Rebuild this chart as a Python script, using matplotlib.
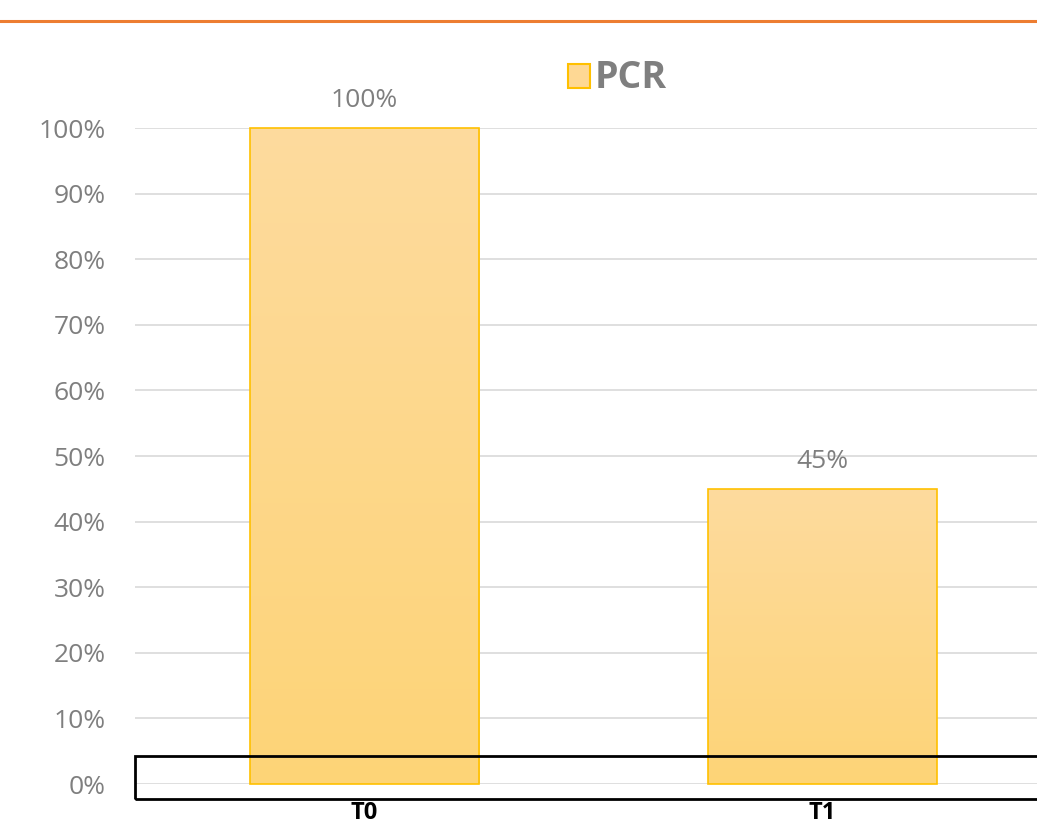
import numpy as np
import matplotlib.pyplot as plt
from matplotlib.patches import Rectangle
from matplotlib.colors import LinearSegmentedColormap

categories = ['T0', 'T1']
pcr_values = [1.00, 0.45]
value_labels = ['100%', '45%']
y_ticks = [0, 0.1, 0.2, 0.3, 0.4, 0.5, 0.6, 0.7, 0.8, 0.9, 1.0]
y_tick_labels = ['0%', '10%', '20%', '30%', '40%', '50%', '60%', '70%', '80%', '90%', '100%']

plt.rcParams['font.family'] = ['Open Sans', 'DejaVu Sans']

W, H = 1037, 826
fig = plt.figure(figsize=(W / 100, H / 100), dpi=100)
ax = fig.add_axes([135 / W, 42 / H, (1051 - 135) / W, (784 - 128) / H])

x = np.arange(len(categories))
bars = ax.bar(x, pcr_values, width=0.5, color='#fdd686', edgecolor='#ffc000',
              linewidth=1.2, zorder=3, clip_on=False)

# soft vertical gradient inside each bar
grad = np.linspace(0, 1, 256).reshape(-1, 1)
cmap = LinearSegmentedColormap.from_list('g', ['#fdd477', '#fedb9e'])
for b in bars:
    x0, y0 = b.get_x(), b.get_y()
    w, h = b.get_width(), b.get_height()
    im = ax.imshow(grad, cmap=cmap, aspect='auto', origin='lower',
                   extent=[x0, x0 + w, y0, y0 + h], zorder=3.1)
    im.set_clip_path(b)
    b.set_facecolor('none')
    b.set_zorder(3.2)

for xi, v, lab in zip(x, pcr_values, value_labels):
    ax.text(xi, v + 0.042, lab, ha='center', va='center', fontsize=19, color='#7f7f7f')

ax.set_xlim(-0.5, 1.5)
ax.set_ylim(0, 1.0)
ax.set_yticks(y_ticks)
ax.set_yticklabels(y_tick_labels, fontsize=19, color='#7f7f7f')
ax.set_xticks(x)
ax.set_xticklabels(categories, fontsize=17, fontweight='bold', color='black')
ax.tick_params(axis='both', length=0)
ax.tick_params(axis='x', pad=12)
ax.tick_params(axis='y', pad=21)
ax.yaxis.grid(True, color='#d9d9d9', linewidth=1.2, zorder=0)
for s in ax.spines.values():
    s.set_visible(False)
ax.set_axisbelow(True)

# legend
fig.patches.append(Rectangle((568 / W, 1 - 88 / H), 22 / W, 24 / H, transform=fig.transFigure,
                             facecolor='#fed894', edgecolor='#ffc000', linewidth=1.5))
fig.text(595 / W, 1 - 78 / H, 'PCR', fontsize=27, fontweight='bold', color='#7f7f7f',
         ha='left', va='center')

# orange rule at top
fig.add_artist(plt.Line2D([0, 1], [1 - 21 / H, 1 - 21 / H], transform=fig.transFigure,
                          color='#ed7d31', linewidth=2.2))

# black outline box near the baseline
fig.patches.append(Rectangle((135 / W, 1 - 799 / H), (1040 - 135) / W, 43 / H,
                             transform=fig.transFigure, fill=False, edgecolor='black',
                             linewidth=2, zorder=10))

fig.savefig('out.png', dpi=100)
